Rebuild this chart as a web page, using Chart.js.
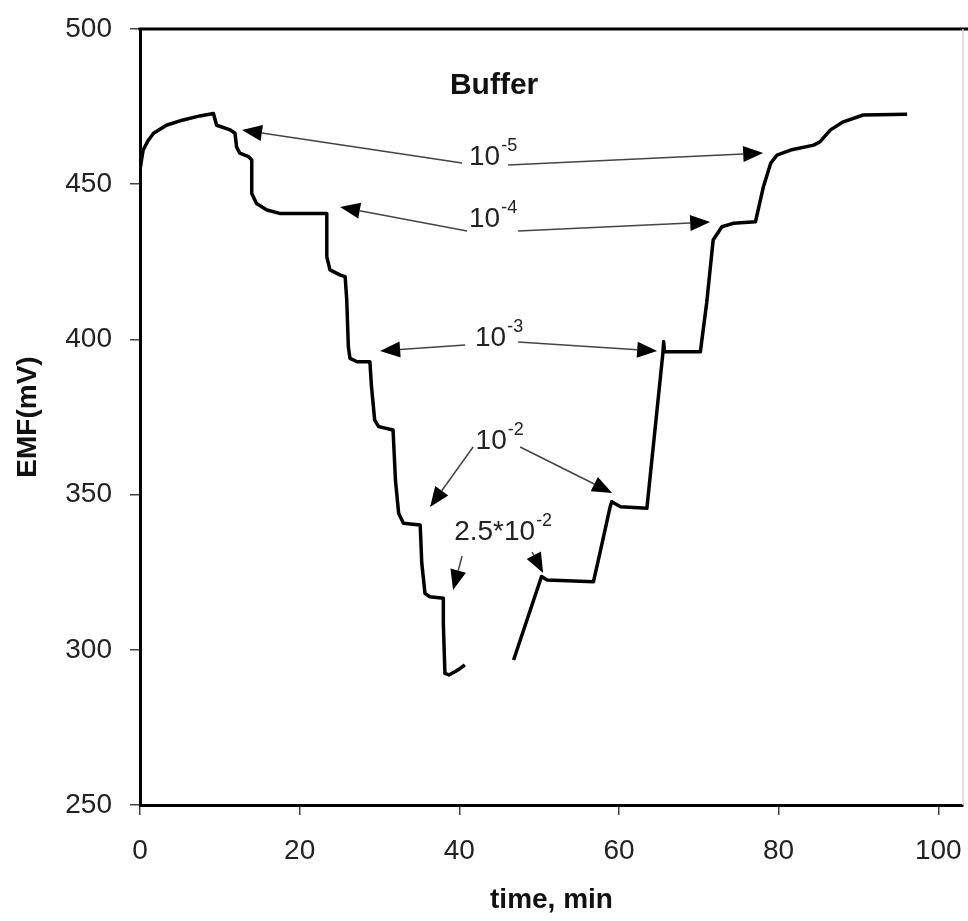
<!DOCTYPE html>
<html><head><meta charset="utf-8">
<script src="https://cdn.jsdelivr.net/npm/chart.js@4/dist/chart.umd.min.js"></script>
<style>html,body{margin:0;padding:0;background:#fff;} canvas{display:block;}</style>
</head><body>
<canvas id="c" width="968" height="921"></canvas>
<script>
// ---- data (time, min / EMF, mV) ----
const timeA = [0, 0.2, 0.4, 1.0, 1.7, 3.3, 5.4, 7.5, 9.2, 9.6, 11.3, 11.9, 12.1, 12.5, 13.6, 14.0, 14.0, 14.6, 15.9, 17.5, 23.4, 23.4, 23.8, 25.1, 25.7, 25.9, 26.1, 26.3, 27.2, 28.8, 29.0, 29.4, 29.9, 31.7, 32.0, 32.4, 33.0, 35.1, 35.3, 35.7, 36.3, 38.0, 38.0, 38.2, 38.7, 39.5, 40.1, 40.7];
const emfA  = [454.6, 458, 461, 464, 466.4, 469, 470.7, 472, 472.8, 469, 467.5, 466.4, 462, 460, 458.9, 457.8, 447, 443.8, 441.7, 440.6, 440.6, 426.6, 422.4, 420.7, 420.2, 412.7, 397.6, 393.9, 392.8, 392.8, 384.8, 374, 371.9, 370.8, 354.7, 344, 340.8, 340.2, 327.9, 318.2, 317.1, 316.6, 308.5, 292.4, 291.9, 293, 294, 295.1];
const timeB = [46.8, 50.3, 51.0, 56.8, 57.6, 58.9, 59.1, 60.2, 63.5, 65.5, 65.6, 65.7, 70.2, 71.0, 71.8, 72.9, 74.3, 77.1, 78.1, 79.0, 79.8, 81.5, 84.4, 85.2, 86.5, 88.1, 90.6, 96.1];
const emfB  = [296.7, 323.6, 322.5, 321.9, 331, 346.1, 347.7, 346.1, 345.6, 395.5, 399.3, 396, 396, 412, 432, 436.3, 437.4, 437.9, 449.2, 456.7, 459.4, 461, 462.6, 463.7, 467.5, 470.1, 472.3, 472.5];
const xTicks = [0, 20, 40, 60, 80, 100];
const yTicks = [250, 300, 350, 400, 450, 500];

// annotation texts (label centre in data coordinates)
const noteMain = ['Buffer', '10', '10', '10', '10', '2.5*10'];
const noteSup  = ['', '-5', '-4', '-3', '-2', '-2'];
const noteT    = [44.36, 44.17, 44.17, 44.92, 44.99, 45.43];
const noteV    = [481.6, 458.6, 438.8, 400.5, 367.3, 337.95];
// arrows (tail -> head) in data coordinates
const arrowFromT = [40.35, 46.12, 40.98, 47.37, 40.73, 47.37, 41.73, 47.62, 40.35, 49.12];
const arrowFromV = [456.8, 456.2, 434.9, 434.9, 398.2, 399.16, 365.34, 365.34, 330.22, 331.51];
const arrowToT   = [12.78, 78.07, 25.06, 71.43, 30.08, 64.79, 36.34, 59.15, 39.22, 50.5];
const arrowToV   = [467.46, 460.05, 442.65, 437.82, 396.27, 396.27, 346.0, 350.52, 319.27, 324.74];

const FAM = '"Liberation Sans", Arial, sans-serif';

const framePlugin = {
  id: 'frame',
  afterDraw(chart) {
    const {ctx, chartArea: a} = chart;
    ctx.save();
    ctx.strokeStyle = '#000';
    ctx.lineWidth = 3;
    ctx.beginPath();
    ctx.moveTo(a.left - 1.5, a.top);
    ctx.lineTo(chart.width, a.top);
    ctx.stroke();
    ctx.strokeStyle = '#d4d4d4';
    ctx.lineWidth = 1.5;
    ctx.beginPath();
    ctx.moveTo(a.right, a.top);
    ctx.lineTo(a.right, a.bottom);
    ctx.stroke();
    ctx.restore();
  }
};

const notesPlugin = {
  id: 'notes',
  afterDatasetsDraw(chart) {
    const {ctx} = chart;
    const xs = chart.scales.x, ys = chart.scales.y;
    ctx.save();
    for (let i = 0; i < arrowFromT.length; i++) {
      const x1 = xs.getPixelForValue(arrowFromT[i]), y1 = ys.getPixelForValue(arrowFromV[i]);
      const x2 = xs.getPixelForValue(arrowToT[i]), y2 = ys.getPixelForValue(arrowToV[i]);
      const ang = Math.atan2(y2 - y1, x2 - x1);
      const len = 20, hw = 8;
      const bx = x2 - len * Math.cos(ang), by = y2 - len * Math.sin(ang);
      ctx.strokeStyle = '#444';
      ctx.lineWidth = 1.5;
      ctx.beginPath();
      ctx.moveTo(x1, y1);
      ctx.lineTo(bx, by);
      ctx.stroke();
      ctx.fillStyle = '#000';
      ctx.beginPath();
      ctx.moveTo(x2, y2);
      ctx.lineTo(bx + hw * Math.sin(ang), by - hw * Math.cos(ang));
      ctx.lineTo(bx - hw * Math.sin(ang), by + hw * Math.cos(ang));
      ctx.closePath();
      ctx.fill();
    }
    ctx.textBaseline = 'middle';
    ctx.textAlign = 'left';
    for (let i = 0; i < noteMain.length; i++) {
      const cx = xs.getPixelForValue(noteT[i]), cy = ys.getPixelForValue(noteV[i]);
      const bold = noteSup[i] === '';
      const mainFont = bold ? 'bold 30px ' + FAM : '28px ' + FAM;
      const supFont = '18px ' + FAM;
      ctx.font = mainFont;
      const wMain = ctx.measureText(noteMain[i]).width;
      ctx.font = supFont;
      const wSup = noteSup[i] ? ctx.measureText(noteSup[i]).width : 0;
      const x0 = cx - (wMain + wSup) / 2;
      ctx.fillStyle = bold ? '#111' : '#222';
      ctx.font = mainFont;
      ctx.fillText(noteMain[i], x0, cy);
      if (noteSup[i]) {
        ctx.font = supFont;
        ctx.fillText(noteSup[i], x0 + wMain + 1, cy - 11);
      }
    }
    ctx.restore();
  }
};

const mk = (ts, vs) => ts.map((t, i) => ({x: t, y: vs[i]}));

new Chart(document.getElementById('c'), {
  type: 'line',
  data: {
    datasets: [
      {data: mk(timeA, emfA), borderColor: '#000', borderWidth: 3.5, pointRadius: 0, tension: 0, fill: false, borderJoinStyle: 'round'},
      {data: mk(timeB, emfB), borderColor: '#000', borderWidth: 3.5, pointRadius: 0, tension: 0, fill: false, borderJoinStyle: 'round'}
    ]
  },
  options: {
    responsive: false,
    animation: false,
    devicePixelRatio: 1,
    layout: {padding: {top: 29, right: 5, left: 0, bottom: 0}},
    plugins: {legend: {display: false}, tooltip: {enabled: false}},
    scales: {
      x: {
        type: 'linear', min: 0, max: 103.1,
        afterBuildTicks: s => { s.ticks = xTicks.map(v => ({value: v})); },
        afterFit: s => { s.height = 116; s.paddingLeft = 0; s.paddingRight = 0; },
        grid: {drawOnChartArea: false, drawTicks: true, tickLength: 10, color: '#444', lineWidth: 1.5},
        border: {display: true, color: '#000', width: 3},
        ticks: {font: {size: 28, family: FAM}, color: '#222', padding: 19, maxRotation: 0, autoSkip: false},
        title: {display: true, text: 'time, min', color: '#111', font: {size: 28, weight: 'bold', family: FAM}, padding: {top: 0, bottom: 4}}
      },
      y: {
        type: 'linear', min: 250, max: 500,
        afterBuildTicks: s => { s.ticks = yTicks.map(v => ({value: v})); },
        afterFit: s => { s.width = 140; s.paddingTop = 0; s.paddingBottom = 0; },
        grid: {drawOnChartArea: false, drawTicks: true, tickLength: 10, color: '#444', lineWidth: 1.5},
        border: {display: true, color: '#000', width: 3},
        ticks: {font: {size: 28, family: FAM}, color: '#222', padding: 18, autoSkip: false},
        title: {display: true, text: 'EMF(mV)', color: '#111', font: {size: 28, weight: 'bold', family: FAM}, padding: {top: 11, bottom: 0}}
      }
    }
  },
  plugins: [framePlugin, notesPlugin]
});
</script>
</body></html>
